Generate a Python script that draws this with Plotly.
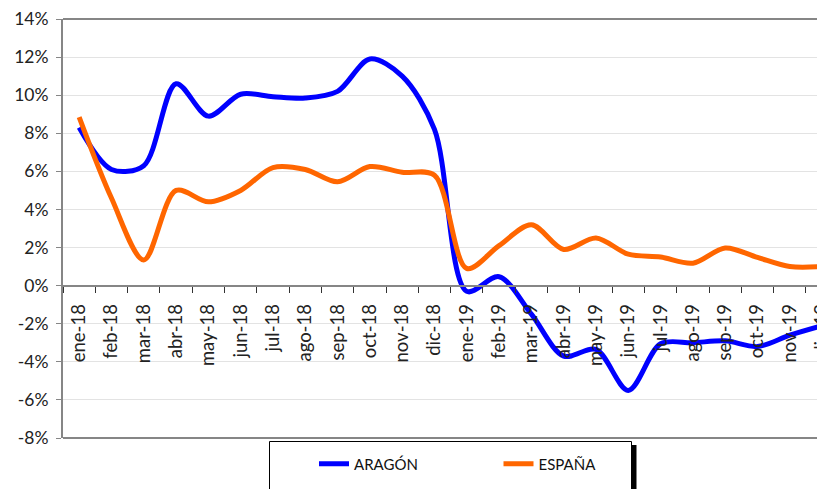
import plotly.graph_objects as go

months = ["ene-18", "feb-18", "mar-18", "abr-18", "may-18", "jun-18", "jul-18", "ago-18",
          "sep-18", "oct-18", "nov-18", "dic-18", "ene-19", "feb-19", "mar-19", "abr-19",
          "may-19", "jun-19", "jul-19", "ago-19", "sep-19", "oct-19", "nov-19", "dic-19"]

aragon = [8.3, 6.1, 6.3, 10.6, 8.9, 10.05, 9.92, 9.85, 10.2, 11.9, 11.0, 8.2,
          -0.3, 0.47, -1.5, -3.7, -3.35, -5.5, -3.05, -3.0, -2.9, -3.2, -2.6, -2.1]

espana = [8.85, 4.6, 1.35, 5.0, 4.4, 5.0, 6.2, 6.1, 5.45, 6.25, 5.95, 5.8,
          0.9, 2.1, 3.2, 1.9, 2.5, 1.65, 1.5, 1.18, 1.98, 1.48, 1.0, 1.0]

y_ticks = [-8, -6, -4, -2, 0, 2, 4, 6, 8, 10, 12, 14]
y_labels = [f"{v}%" for v in y_ticks]

# the page body adds an 8px offset, so the figure is laid out in window pixels minus 8
OFF = 8
W, H = 825 - OFF, 489 - OFF
ML, MT, MR = 63 - OFF, 19 - OFF, 0
MB = H - (438 - OFF)
PW = W - ML - MR
PH = H - MT - MB

def px_x(px):
    return (px - OFF - ML) / PW

def px_y(py):
    return (H - MB - (py - OFF)) / PH

FONT = "Lato, 'Open Sans', sans-serif"
AXIS = "#868686"

fig = go.Figure()
fig.add_trace(go.Scatter(x=months, y=aragon, name="ARAGÓN", mode="lines",
                         line=dict(color="#0000FF", width=5, shape="spline", smoothing=0.9)))
fig.add_trace(go.Scatter(x=months, y=espana, name="ESPAÑA", mode="lines",
                         line=dict(color="#FF6600", width=5, shape="spline", smoothing=0.9)))

# top and bottom borders of the plot area
fig.add_shape(type="line", xref="paper", yref="paper", x0=0, x1=1, y0=1, y1=1,
              line=dict(color=AXIS, width=2), layer="above")
fig.add_shape(type="line", xref="paper", yref="paper", x0=0, x1=1, y0=0, y1=0,
              line=dict(color=AXIS, width=2), layer="above")
# legend frame with shadow
fig.add_shape(type="rect", xref="paper", yref="paper",
              x0=px_x(632), x1=px_x(636.5), y0=px_y(500), y1=px_y(445),
              line=dict(width=0), fillcolor="black")
fig.add_shape(type="rect", xref="paper", yref="paper",
              x0=px_x(269.5), x1=px_x(631.5), y0=px_y(500), y1=px_y(441.5),
              line=dict(color="black", width=1), fillcolor="white")

fig.update_layout(
    width=W, height=H,
    margin=dict(l=ML, r=MR, t=MT, b=MB, pad=0, autoexpand=False),
    paper_bgcolor="white", plot_bgcolor="white",
    font=dict(family=FONT, color="#222222"),
    showlegend=True,
    legend=dict(orientation="h", x=px_x(314), xref="paper",
                y=(H - (464 - OFF)) / H, yref="container",
                xanchor="left", yanchor="middle",
                entrywidth=139.5, entrywidthmode="pixels",
                font=dict(size=15, family=FONT, color="#111111"),
                bgcolor="rgba(0,0,0,0)", borderwidth=0),
    xaxis=dict(type="category", range=[-0.5, 23.09], anchor="free", position=8 / 22,
               automargin=False,
               showline=True, linecolor=AXIS, linewidth=2,
               ticks="outside", ticklen=6, tickwidth=1, tickcolor="#333333",
               tickson="boundaries", tickangle=-90, ticklabelstandoff=10,
               tickfont=dict(size=18.5, family=FONT, color="#222222"),
               showgrid=False, zeroline=False),
    yaxis=dict(range=[-8, 14], tickvals=y_ticks, ticktext=y_labels,
               automargin=False,
               showline=True, linecolor=AXIS, linewidth=2,
               ticks="outside", ticklen=5, tickcolor=AXIS, ticklabelstandoff=4,
               tickfont=dict(size=17.5, family=FONT, color="#222222"),
               showgrid=True, gridcolor="#e3e3e3", gridwidth=1, zeroline=False),
)

fig.write_html("out.html")
